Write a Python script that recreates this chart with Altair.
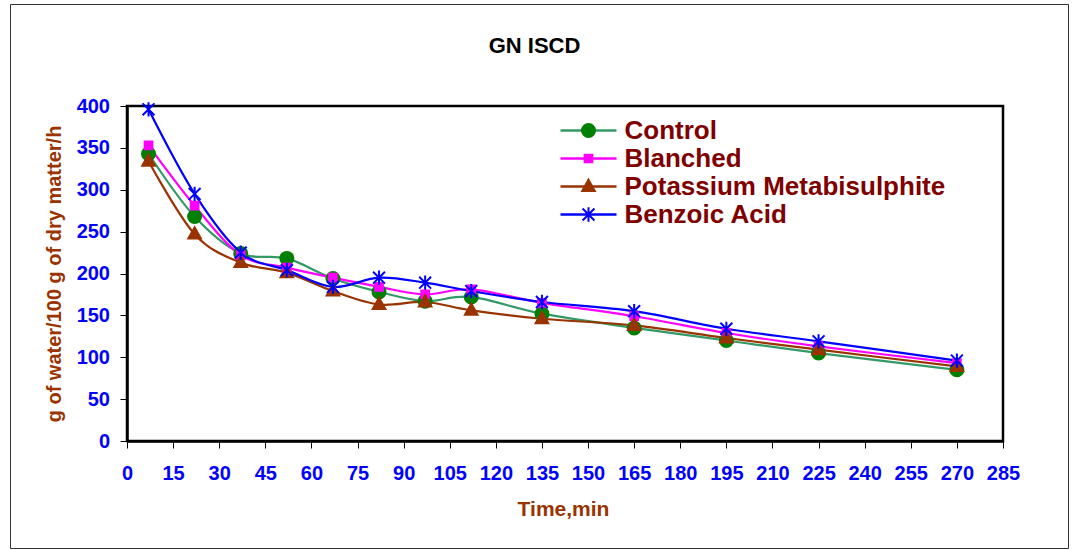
import altair as alt
import pandas as pd

# Drying rate (g water / 100 g dry matter / h) against drying time for each pre-treatment
time_min = [7, 22, 37, 52, 67, 82, 97, 112, 135, 165, 195, 225, 270]
control = [343, 268, 224, 218, 194, 178, 167, 172, 152, 135, 120, 105, 85]
blanched = [353, 281, 222, 207, 195, 184, 175, 181, 165, 149, 129, 113, 93]
potassium_metabisulphite = [334, 247, 213, 201, 179, 163, 166, 156, 146, 138, 123, 109, 89]
benzoic_acid = [396, 295, 225, 204, 184, 195, 189, 179, 166, 155, 134, 119, 96]

series_names = ["Control", "Blanched", "Potassium Metabisulphite", "Benzoic Acid"]
series_values = [control, blanched, potassium_metabisulphite, benzoic_acid]
line_colors = ["#339966", "#FF00FF", "#993300", "#0000FF"]
marker_colors = ["#008000", "#FF00FF", "#993300", "#0000FF"]
x_ticks = list(range(0, 286, 15))
y_ticks = list(range(0, 401, 50))
chart_title = "GN ISCD"

# marker outlines: circle, square, triangle, asterisk
marker_shapes = [
    "M-0.93,0A0.93,0.93,0,1,0,0.93,0A0.93,0.93,0,1,0,-0.93,0Z",
    "M-0.55,-0.55H0.55V0.55H-0.55Z",
    "M0,-0.98L0.9,0.64L-0.9,0.64Z",
    "M0,-1.02V1.02M-0.85,-0.85L0.85,0.85M-0.85,0.85L0.85,-0.85",
]

FONT = "Liberation Sans"

rows = []
for idx, (name, vals) in enumerate(zip(series_names, series_values)):
    for t, v in zip(time_min, vals):
        rows.append({"series": name, "marker": idx, "time": t, "value": v})
data = pd.DataFrame(rows)

x_enc = alt.X(
    "time:Q",
    scale=alt.Scale(domain=[0, 285], nice=False, zero=False),
    axis=alt.Axis(
        values=x_ticks, title="Time,min", grid=False,
        labelPadding=15.5, labelFlush=False, labelOverlap=False,
        titleX=436, titleY=74, titleBaseline="alphabetic", titleAlign="center",
        titleFontSize=21,
    ),
)
y_enc = alt.Y(
    "value:Q",
    scale=alt.Scale(domain=[0, 400], nice=False),
    axis=alt.Axis(
        values=y_ticks, title="g of water/100 g of dry matter/h", grid=False,
        labelPadding=10.5, labelFlush=False, labelOverlap=False,
        titleAngle=270, titleX=-72.5, titleY=167.5,
        titleBaseline="middle", titleAlign="center", titleFontSize=20,
    ),
)

# line samples with the series names
line_legend = alt.Legend(
    orient="none", legendX=432, legendY=10.5, title=None,
    symbolType="stroke", symbolSize=3136, symbolStrokeWidth=2.5,
    labelFont=FONT, labelFontSize=26, labelFontWeight="bold", labelColor="#800000",
    labelOffset=6.5, labelLimit=0, clipHeight=28, rowPadding=0, padding=0,
)
# marker glyphs laid over the middle of each line sample
marker_legend = alt.Legend(
    orient="none", legendX=432, legendY=10.5, title=None,
    symbolSize=196, symbolStrokeWidth=2, symbolOffset=16.5,
    labelFont=FONT, labelFontSize=26, labelExpr="''",
    clipHeight=28, rowPadding=0, padding=0,
)

base = alt.Chart(data)

line_layers = [
    base.transform_filter(alt.datum.series == name)
    .mark_line(interpolate="cardinal", tension=0, strokeWidth=2.2)
    .encode(
        x=x_enc,
        y=y_enc,
        color=alt.Color(
            "series:N",
            scale=alt.Scale(domain=series_names, range=line_colors),
            legend=line_legend,
        ),
    )
    for name in series_names
]

points = base.mark_point(filled=True, size=196, strokeWidth=2, opacity=1).encode(
    x=x_enc,
    y=y_enc,
    fill=alt.Fill("marker:O", scale=alt.Scale(range=marker_colors), legend=marker_legend),
    stroke=alt.Stroke("marker:O", scale=alt.Scale(range=marker_colors), legend=marker_legend),
    shape=alt.Shape("marker:O", scale=alt.Scale(range=marker_shapes), legend=marker_legend),
)

frame = alt.Chart(pd.DataFrame({"frame": [0]})).mark_rect(
    fill="transparent", stroke="#333333", strokeWidth=1
).encode(
    x=alt.value(-116.5), x2=alt.value(941.5),
    y=alt.value(-101.5), y2=alt.value(442.5),
)

title = alt.Chart(pd.DataFrame({"label": [chart_title]})).mark_text(
    font=FONT, fontSize=22, fontWeight="bold", color="black",
    align="center", baseline="alphabetic",
).encode(text="label:N", x=alt.value(407.5), y=alt.value(-53.3))

chart = (
    alt.layer(frame, title, *line_layers, points)
    .properties(
        width=876,
        height=335,
        autosize=alt.AutoSizeParams(type="none"),
        padding={"left": 127, "top": 106, "right": 69, "bottom": 109},
        background="white",
    )
    .configure_view(stroke="black", strokeWidth=2.5)
    .configure_axis(
        labelFont=FONT, labelFontSize=20, labelFontWeight="bold", labelColor="#0000FF",
        titleFont=FONT, titleFontWeight="bold", titleColor="#993300",
        domainColor="black", domainWidth=2.5,
        tickColor="black", tickWidth=1, tickSize=7,
    )
)

chart.save("out.html", embed_options={"renderer": "svg", "actions": False})
